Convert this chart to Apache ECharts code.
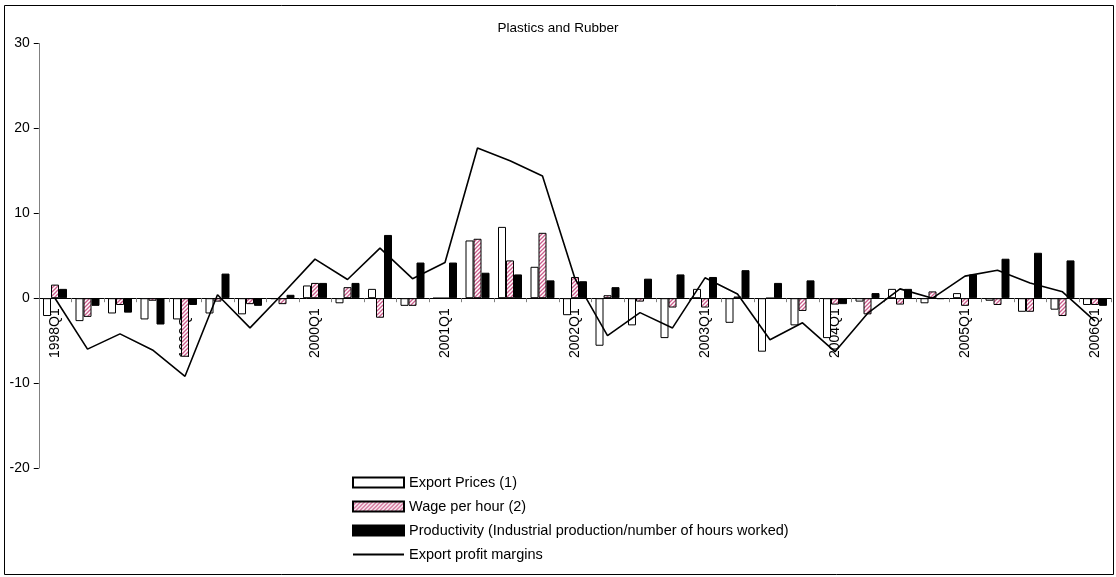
<!DOCTYPE html>
<html>
<head>
<meta charset="utf-8">
<script src="https://cdn.jsdelivr.net/npm/echarts@6/dist/echarts.min.js"></script>
<style>
html,body{margin:0;padding:0;background:#fff;}
#chart{width:1116px;height:577px;}
</style>
</head>
<body>
<div id="chart"></div>
<script>
const categories = ['1998Q1','1998Q2','1998Q3','1998Q4','1999Q1','1999Q2','1999Q3','1999Q4',
  '2000Q1','2000Q2','2000Q3','2000Q4','2001Q1','2001Q2','2001Q3','2001Q4',
  '2002Q1','2002Q2','2002Q3','2002Q4','2003Q1','2003Q2','2003Q3','2003Q4',
  '2004Q1','2004Q2','2004Q3','2004Q4','2005Q1','2005Q2','2005Q3','2005Q4','2006Q1'];
const exportPrices = [-2.1,-2.7,-1.8,-2.5,-2.5,-1.8,-1.9,-0.1,1.5,-0.6,1.1,-0.9,0,6.8,8.4,3.7,
  -2.0,-5.6,-3.2,-4.7,1.1,-2.9,-6.3,-3.2,-4.7,-0.4,1.1,-0.6,0.6,-0.3,-1.6,-1.35,-0.8];
const wagePerHour = [1.6,-2.2,-0.8,-0.3,-6.9,-0.4,-0.7,-0.7,1.8,1.3,-2.3,-0.9,0,7.0,4.45,7.7,
  2.5,0.35,-0.4,-1.1,-1.1,0.2,0,-1.5,-0.75,-1.9,-0.75,0.8,-0.9,-0.8,-1.6,-2.1,-0.8];
const productivity = [1.1,-0.9,-1.7,-3.1,-0.8,2.9,-0.9,0.4,1.8,1.8,7.45,4.2,4.2,3.0,2.8,2.1,
  2.0,1.3,2.3,2.8,2.5,3.3,1.8,2.1,-0.7,0.6,1.1,-0.1,2.8,4.65,5.35,4.45,-0.9];
const profitMargins = [0,-6.0,-4.2,-6.1,-9.2,0.4,-3.5,0.5,4.6,2.2,5.9,2.3,4.2,17.7,16.2,14.4,
  2.3,-4.4,-1.7,-3.5,2.4,0.5,-4.9,-2.9,-6.3,-1.8,1.1,0.0,2.6,3.3,1.8,0.75,-2.7];
const seriesNames = ['Export Prices (1)','Wage per hour (2)',
  'Productivity (Industrial production/number of hours worked)','Export profit margins'];
const yTicks = {min:-20, max:30, interval:10};

function makeHatch(){
  const c = document.createElement('canvas');
  c.width = 4; c.height = 4;
  const ctx = c.getContext('2d');
  ctx.fillStyle = '#ffffff';
  ctx.fillRect(0,0,4,4);
  ctx.strokeStyle = '#cc5c8c';
  ctx.lineWidth = 1.3;
  ctx.beginPath();
  ctx.moveTo(0,4); ctx.lineTo(4,0);
  ctx.moveTo(-1,1); ctx.lineTo(1,-1);
  ctx.moveTo(3,5); ctx.lineTo(5,3);
  ctx.stroke();
  return c;
}
const hatch = {image: makeHatch(), repeat: 'repeat'};
const FONT = '"Liberation Sans", Arial, sans-serif';

const W = 1116, H = 577;
const gridTop = 43.5, gridBottom = 109;
const gridH = H - gridTop - gridBottom;
// place the category axis at value 0 of the value scale
const zeroOffset = -gridH * (0 - yTicks.min) / (yTicks.max - yTicks.min);

const chart = echarts.init(document.getElementById('chart'), null, {renderer:'canvas'});
chart.setOption({
  animation: false,
  backgroundColor: '#ffffff',
  textStyle: {fontFamily: FONT},
  title: {
    text: 'Plastics and Rubber', left: 'center', top: 16,
    textStyle: {fontFamily: FONT, fontSize: 13.5, fontWeight: 'normal', color: '#000'}
  },
  graphic: [{
    type: 'rect', silent: true, z: -1,
    shape: {x: 4.5, y: 5.5, width: 1109, height: 569},
    style: {fill: 'none', stroke: '#000', lineWidth: 1}
  }],
  legend: {
    orient: 'vertical', left: 352, top: 475, height: 102, padding: 0,
    itemWidth: 51, itemHeight: 10, itemGap: 9,
    textStyle: {fontFamily: FONT, fontSize: 14.5, color: '#000'},
    data: [
      {name: seriesNames[0], icon: 'rect'},
      {name: seriesNames[1], icon: 'rect'},
      {name: seriesNames[2], icon: 'rect'},
      {name: seriesNames[3], itemStyle: {color: 'transparent', borderWidth: 0, opacity: 0}}
    ]
  },
  grid: {left: 38.75, right: 4.75, top: gridTop, bottom: gridBottom, containLabel: false},
  xAxis: {
    type: 'category', data: categories, boundaryGap: true, position: 'bottom',
    offset: zeroOffset,
    axisLine: {onZero: false, lineStyle: {color: '#000', width: 1}},
    axisTick: {show: true, interval: 0, length: 4, lineStyle: {color: '#808080'}},
    axisLabel: {interval: 3, rotate: 90, margin: 10, fontSize: 14, color: '#000', fontFamily: FONT},
    splitLine: {show: false}
  },
  yAxis: {
    type: 'value', min: yTicks.min, max: yTicks.max, interval: yTicks.interval,
    axisLine: {show: true, lineStyle: {color: '#808080', width: 1}},
    axisTick: {show: true, length: 5, lineStyle: {color: '#000'}},
    axisLabel: {fontSize: 14, color: '#000', margin: 9, fontFamily: FONT},
    splitLine: {show: false}
  },
  series: [
    {name: seriesNames[0], type: 'bar', data: exportPrices, barWidth: 8, barGap: '0%',
      itemStyle: {color: '#ffffff', borderColor: '#000', borderWidth: 1}},
    {name: seriesNames[1], type: 'bar', data: wagePerHour, barWidth: 8, barGap: '0%',
      itemStyle: {color: hatch, borderColor: '#000', borderWidth: 1}},
    {name: seriesNames[2], type: 'bar', data: productivity, barWidth: 8, barGap: '0%',
      itemStyle: {color: '#000000', borderColor: '#000', borderWidth: 1}},
    {name: seriesNames[3], type: 'line', data: profitMargins, symbol: 'none', z: 5,
      lineStyle: {color: '#000', width: 1.6}, itemStyle: {color: '#000'}}
  ]
});
</script>
</body>
</html>
